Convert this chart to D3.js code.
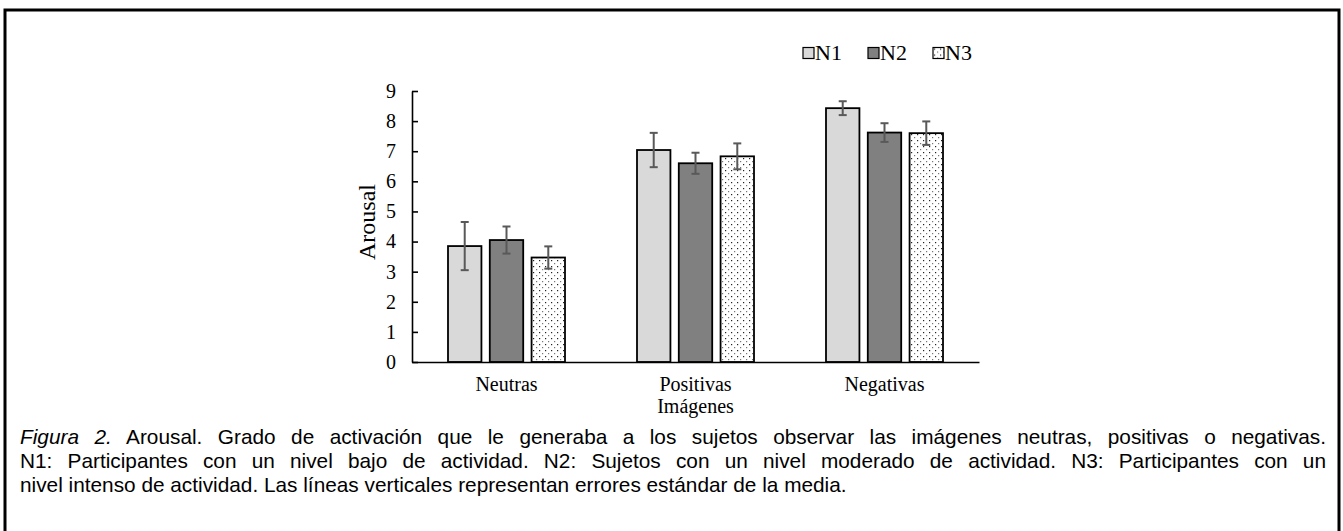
<!DOCTYPE html>
<html>
<head>
<meta charset="utf-8">
<script src="https://cdn.jsdelivr.net/npm/d3@7"></script>
<style>
  body { margin: 0; background: #fff; }
  svg { display: block; }
</style>
</head>
<body>
<svg id="chart"></svg>
<script>
// data
const categories = ['Neutras', 'Positivas', 'Negativas'];
const seriesNames = ['N1', 'N2', 'N3'];
const meansN1 = [3.85, 7.04, 8.43];
const meansN2 = [4.05, 6.60, 7.62];
const meansN3 = [3.47, 6.83, 7.60];
const errN1 = [0.80, 0.57, 0.23];
const errN2 = [0.45, 0.35, 0.31];
const errN3 = [0.37, 0.43, 0.39];
const yTicks = [0, 1, 2, 3, 4, 5, 6, 7, 8, 9];
const captionLines = [
    ['Figura 2.', ' Arousal. Grado de activación que le generaba a los sujetos observar las imágenes neutras, positivas o negativas.'],
    ['', 'N1: Participantes con un nivel bajo de actividad. N2: Sujetos con un nivel moderado de actividad. N3: Participantes con un'],
    ['', 'nivel intenso de actividad. Las líneas verticales representan errores estándar de la media.']
];

const W = 1343, H = 531;
const margin = { left: 412, right: 364, top: 91, bottom: 169 };
const innerW = W - margin.left - margin.right;
const innerH = H - margin.top - margin.bottom;
const serif = '"Liberation Serif", "Times New Roman", serif';

const means = [meansN1, meansN2, meansN3];
const errs = [errN1, errN2, errN3];
const rows = [];
categories.forEach((c, i) => {
    seriesNames.forEach((s, j) => {
        rows.push({ cat: c, series: s, value: means[j][i], err: errs[j][i] });
    });
});

const svg = d3.select('#chart').attr('width', W).attr('height', H);

// dotted fill for N3
const defs = svg.append('defs');
const pat = defs.append('pattern')
    .attr('id', 'dots')
    .attr('patternUnits', 'userSpaceOnUse')
    .attr('width', 6).attr('height', 6);
pat.append('rect').attr('width', 6).attr('height', 6).attr('fill', '#fff');
pat.append('rect').attr('x', 1).attr('y', 1).attr('width', 1.2).attr('height', 1.2).attr('fill', '#222');
pat.append('rect').attr('x', 4).attr('y', 4).attr('width', 1.2).attr('height', 1.2).attr('fill', '#777');

const fills = { N1: '#d9d9d9', N2: '#808080', N3: 'url(#dots)' };

// outer frame
svg.append('path')
    .attr('d', `M5,${H + 5} V10 H1339 V${H + 5}`)
    .attr('fill', 'none')
    .attr('stroke', '#000')
    .attr('stroke-width', 3);

const x0 = d3.scaleBand().domain(categories).range([0, innerW]);
const x1 = d3.scaleBand().domain(seriesNames).range([0, 117]).paddingInner(0.2).paddingOuter(0);
const y = d3.scaleLinear().domain([0, 9]).range([innerH, 0]);

const chart = svg.append('g').attr('transform', `translate(${margin.left},${margin.top})`);

const barX = d => x0(d.cat) + (x0.bandwidth() - 117) / 2 + x1(d.series);
const cx = d => barX(d) + x1.bandwidth() / 2;

// bars
chart.append('g').selectAll('rect')
    .data(rows)
    .join('rect')
    .attr('x', barX)
    .attr('y', d => y(d.value))
    .attr('width', x1.bandwidth())
    .attr('height', d => y(0) - y(d.value))
    .attr('fill', d => fills[d.series])
    .attr('stroke', '#000')
    .attr('stroke-width', 1.8);

// error bars
const errG = chart.append('g').attr('stroke', '#595959').attr('stroke-width', 2);
errG.selectAll('.stem').data(rows).join('line')
    .attr('class', 'stem')
    .attr('x1', cx).attr('x2', cx)
    .attr('y1', d => y(d.value + d.err)).attr('y2', d => y(d.value - d.err));
errG.selectAll('.capTop').data(rows).join('line')
    .attr('class', 'capTop')
    .attr('x1', d => cx(d) - 4).attr('x2', d => cx(d) + 4)
    .attr('y1', d => y(d.value + d.err)).attr('y2', d => y(d.value + d.err));
errG.selectAll('.capBot').data(rows).join('line')
    .attr('class', 'capBot')
    .attr('x1', d => cx(d) - 4).attr('x2', d => cx(d) + 4)
    .attr('y1', d => y(d.value - d.err)).attr('y2', d => y(d.value - d.err));

// axes
const yAxis = d3.axisLeft(y).tickValues(yTicks).tickSizeInner(-6).tickSizeOuter(0).tickPadding(16);
const yAxisG = chart.append('g').call(yAxis);
yAxisG.selectAll('text').attr('font-family', serif).attr('font-size', 20).attr('fill', '#000');
yAxisG.selectAll('line, path').attr('stroke', '#000').attr('stroke-width', 1.6);

const xAxis = d3.axisBottom(x0).tickSize(0).tickPadding(15);
const xAxisG = chart.append('g').attr('transform', `translate(0,${innerH})`).call(xAxis);
xAxisG.selectAll('text').attr('font-family', serif).attr('font-size', 20).attr('fill', '#000');
xAxisG.select('.domain').attr('stroke', '#000').attr('stroke-width', 1.6);

// axis titles
chart.append('text')
    .attr('transform', `translate(-37,${131}) rotate(-90)`)
    .attr('text-anchor', 'middle')
    .attr('font-family', serif)
    .attr('font-size', 24)
    .text('Arousal');

chart.append('text')
    .attr('x', innerW / 2)
    .attr('y', innerH + 51)
    .attr('text-anchor', 'middle')
    .attr('font-family', serif)
    .attr('font-size', 20)
    .text('Imágenes');

// legend
const legend = svg.append('g').attr('transform', 'translate(803,47.5)');
const leg = legend.selectAll('g').data(seriesNames).join('g')
    .attr('transform', (d, i) => `translate(${i * 65},0)`);
leg.append('rect')
    .attr('width', 11).attr('height', 11)
    .attr('fill', d => fills[d])
    .attr('stroke', '#000').attr('stroke-width', 1.2);
leg.append('text')
    .attr('x', 12).attr('y', 12.5)
    .attr('font-family', serif)
    .attr('font-size', 22)
    .text(d => d);

// caption, first two lines justified to the same width by word spacing
const cap = svg.append('g')
    .attr('font-family', '"Liberation Sans", Arial, sans-serif')
    .attr('font-size', 20.8)
    .attr('fill', '#000');
captionLines.forEach((ln, i) => {
    const t = cap.append('text').attr('x', 20).attr('y', 444 + i * 24);
    if (ln[0]) t.append('tspan').attr('font-style', 'italic').text(ln[0]);
    t.append('tspan').text(ln[1]);
    if (i < 2) {
        const w = t.node().getComputedTextLength();
        const spaces = (ln[0] + ln[1]).split(' ').length - 1;
        t.attr('word-spacing', Math.max(0, (1306 - w) / spaces));
    }
});
</script>
</body>
</html>
